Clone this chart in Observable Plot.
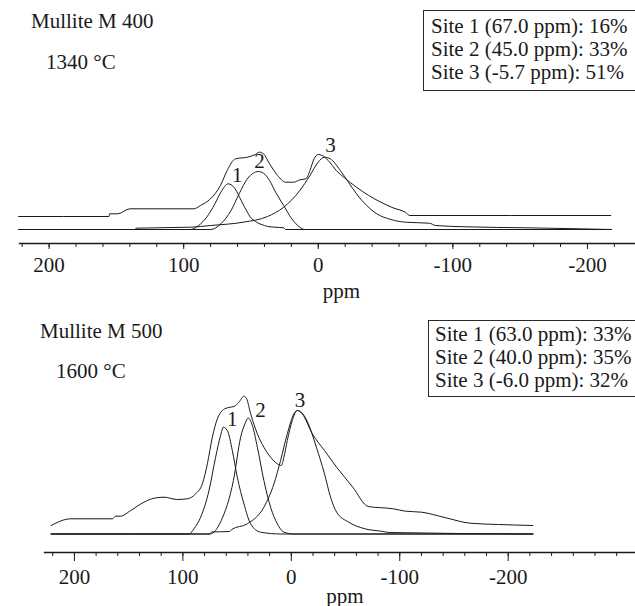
<!DOCTYPE html>
<html>
<head>
<meta charset="utf-8">
<script src="https://cdn.jsdelivr.net/npm/d3@7"></script>
<script src="https://cdn.jsdelivr.net/npm/@observablehq/plot@0.6"></script>
<style>
  body { margin: 0; background: #fff; }
  #wrap { position: relative; width: 635px; height: 606px; overflow: hidden;
          font-family: "Liberation Serif", "Times New Roman", serif; color: #1a1a1a; }
  #wrap svg, #wrap svg text { font-family: "Liberation Serif", "Times New Roman", serif !important; }
  #top { position: absolute; left: 0; top: 0; }
  #bot { position: absolute; left: 0; top: 300px; }
  .lbl { position: absolute; font-size: 21px; line-height: 23px; white-space: nowrap; z-index: 2; }
  .box { position: absolute; box-sizing: border-box; border: 1.5px solid #2a2a2a; background: #fff;
         font-size: 21px; line-height: 23px; white-space: nowrap; z-index: 2; }
</style>
</head>
<body>
<div id="wrap"><div id="top"></div><div id="bot"></div></div>
<script>
// ---------- Panel 1: Mullite M 400, 1340 °C ----------
const m400Title = "Mullite M 400";
const m400Temp = "1340 °C";
const m400Sites = ["Site 1 (67.0 ppm): 16%", "Site 2 (45.0 ppm): 33%", "Site 3 (-5.7 ppm): 51%"];
const m400MajorTicks = [200, 100, 0, -100, -200];
const m400MinorTicks = [220, 200, 180, 160, 140, 120, 100, 80, 60, 40, 20, 0, -20, -40, -60, -80, -100, -120, -140, -160, -180, -200, -220];
// [ppm, intensity]
const m400Envelope = [[222.7,13],[155.6,13],[155.0,15.7],[149.0,15.7],[140.0,20.7],[92.5,20.7],[87.5,24],[80.1,30.7],[72.7,44],[67.7,59],[61.5,70.7],[52.7,72.3],[46.8,75],[43.8,77.3],[40.7,75.7],[36.2,65.7],[30.2,54],[24.2,47.3],[18.2,47.3],[13.7,49.7],[9.1,50.7],[6.2,59],[3.1,70.7],[0.1,75],[-2.9,74],[-7.4,69],[-13.4,59],[-19.4,51.7],[-28.4,42.3],[-37.5,34],[-46.5,27.3],[-55.5,21.7],[-64.6,17.3],[-68.1,14],[-217.3,14]];
const m400Site1 = [[222.7,0],[94.9,0],[88.9,4],[82.9,12.3],[76.8,25.7],[72.4,37.3],[66.9,45.7],[61.8,40.7],[57.3,29],[52.7,17.3],[50.4,12.3],[46.7,8],[40.0,4],[37.7,3],[28.7,2],[25.7,1.7],[24.4,0],[-217.9,0]];
const m400Site2 = [[222.7,0],[79.9,0],[72.4,5.7],[64.8,19],[58.8,35.7],[52.7,50.7],[48.3,56.3],[44.7,58],[40.7,56.3],[36.2,49],[31.7,37.3],[25.7,24],[19.7,10.7],[13.7,2.3],[10.0,0],[-217.9,0]];
const m400Site3 = [[222.7,0],[136.0,0],[135.5,1.3],[94.9,2.3],[79.9,4],[55.8,7.3],[37.7,13],[25.7,22.3],[13.7,39],[6.2,54],[0.1,67.3],[-4.4,72.3],[-8.9,70.7],[-16.4,59],[-22.4,47.3],[-28.4,35.7],[-36.0,24],[-43.5,15.7],[-54.0,10],[-64.6,7.3],[-82.6,6.3],[-87.1,4],[-109.7,2.7],[-154.8,1.7],[-217.9,0]];
const m400PeakLabels = [{label: "1", ppm: 60.2, v: 54}, {label: "2", ppm: 43.7, v: 68}, {label: "3", ppm: -9.1, v: 84}];

// ---------- Panel 2: Mullite M 500, 1600 °C ----------
const m500Title = "Mullite M 500";
const m500Temp = "1600 °C";
const m500Sites = ["Site 1 (63.0 ppm): 33%", "Site 2 (40.0 ppm): 35%", "Site 3 (-6.0 ppm): 32%"];
const m500MajorTicks = [200, 100, 0, -100, -200];
const m500MinorTicks = [220, 200, 180, 160, 140, 120, 100, 80, 60, 40, 20, 0, -20, -40, -60, -80, -100, -120, -140, -160, -180, -200, -220, -240, -260, -280, -300];
const m500Envelope = [[221.5,8.5],[203.4,15.2],[165.0,15.2],[161.9,17.8],[157.3,17.8],[148.1,23.5],[135.9,31.8],[126.6,35.8],[117.4,36.8],[105.1,34.5],[95.9,35.2],[88.2,40.2],[82.0,50.2],[77.4,70.2],[72.8,96.8],[68.2,115.2],[63.6,123.5],[59.0,126.2],[52.9,127.5],[48.3,131.8],[43.7,137.8],[41.2,135.2],[37.5,120.2],[31.3,100.2],[25.3,86.8],[19.1,76.8],[12.9,70.2],[9.2,68.5],[6.8,76.8],[3.7,93.5],[-0.9,113.5],[-5.5,123.5],[-10.0,120.2],[-19.4,100.2],[-30.6,83.5],[-41.8,66.8],[-56.7,46.8],[-70.9,27.5],[-94.0,25.2],[-105.3,22.8],[-120.2,21.8],[-142.5,16.2],[-164.9,10.8],[-191.1,9.5],[-222.8,8.5]];
const m500Site1 = [[221.5,0],[94.4,0],[89.8,5.2],[83.6,16.8],[75.9,43.5],[69.8,76.8],[65.2,98.5],[62.7,106.8],[59.0,103.5],[54.4,83.5],[49.8,56.8],[43.7,30.2],[37.5,10.2],[28.3,1.8],[9.9,0],[-222.8,0]];
const m500Site2 = [[221.5,0],[75.0,0],[64.6,13.5],[53.4,53.5],[46.7,96.8],[42.1,111.8],[39.8,116],[35.9,108.5],[31.3,86.8],[25.3,53.5],[19.1,26.8],[12.9,10.2],[6.8,1.8],[-2.4,0],[-222.8,0]];
const m500Site3 = [[221.5,0],[75.3,0],[73.5,2],[56.9,2.5],[55.0,4.5],[40.6,10.2],[25.3,26.8],[16.0,50.2],[9.9,73.5],[3.7,100.2],[-2.4,120.2],[-5.5,123.5],[-9.5,121.5],[-15.7,110.2],[-23.1,86.8],[-30.6,60.2],[-36.2,36.8],[-41.8,21.8],[-53.0,11.8],[-67.9,5.2],[-82.9,2.8],[-90.3,1.5],[-222.8,0]];
const m500PeakLabels = [{label: "1", ppm: 54.4, v: 115}, {label: "2", ppm: 28.3, v: 123.5}, {label: "3", ppm: -7.9, v: 133.5}];

const ink = "#1a1a1a";
const serif = "Liberation Serif";

function spectrumPanel(o) {
  return Plot.plot({
    width: 635,
    height: o.height,
    marginLeft: o.marginLeft,
    marginRight: 0,
    marginTop: 0,
    marginBottom: o.marginBottom,
    x: {domain: o.xDomain},
    y: {domain: o.yDomain, axis: null},
    style: {fontFamily: serif, fontSize: "21px", color: ink, background: "transparent", overflow: "visible"},
    marks: [
      ...o.curves.map(c => Plot.line(c, {x: d => d[0], y: d => d[1], curve: "monotone-x", stroke: ink, strokeWidth: 1})),
      Plot.frame({anchor: "bottom", stroke: ink, strokeWidth: 1.3}),
      Plot.axisX({ticks: o.minorTicks, tickSize: 4, tickFormat: () => "", label: null, stroke: ink}),
      Plot.axisX({ticks: o.majorTicks, tickSize: o.majorTickSize, tickPadding: 8, tickFormat: d => String(d), label: null, stroke: ink, fontSize: 21, fontFamily: serif, fontVariant: "normal"}),
      Plot.text(["ppm"], {frameAnchor: "bottom", lineAnchor: "bottom", dx: o.labelDx, dy: o.labelDy, fontSize: 21, fontFamily: serif, fill: ink}),
      Plot.text(o.peakLabels, {x: "ppm", y: "v", text: "label", fontSize: 21, fontFamily: serif, fill: ink})
    ]
  });
}

document.getElementById("top").append(spectrumPanel({
  height: 300, marginLeft: 19, marginBottom: 57,
  xDomain: [222.0, -235.7], yDomain: [-14, 229],
  curves: [m400Envelope, m400Site1, m400Site2, m400Site3],
  peakLabels: m400PeakLabels, majorTicks: m400MajorTicks, minorTicks: m400MinorTicks,
  majorTickSize: 6, labelDx: 14, labelDy: 54
}));

document.getElementById("bot").append(spectrumPanel({
  height: 306, marginLeft: 44, marginBottom: 54,
  xDomain: [227.6, -317.4], yDomain: [-18.5, 233.5],
  curves: [m500Envelope, m500Site1, m500Site2, m500Site3],
  peakLabels: m500PeakLabels, majorTicks: m500MajorTicks, minorTicks: m500MinorTicks,
  majorTickSize: 9, labelDx: 5, labelDy: 50
}));

// Text annotations (titles, temperatures, site boxes)
const wrap = document.getElementById("wrap");
function addLabel(text, left, top) {
  const d = document.createElement("div");
  d.className = "lbl";
  d.textContent = text;
  d.style.left = left + "px";
  d.style.top = top + "px";
  wrap.append(d);
}
function addBox(lines, left, top, height, padTop, padLeft) {
  const d = document.createElement("div");
  d.className = "box";
  Object.assign(d.style, {left: left + "px", top: top + "px", width: "230px", height: height + "px",
    paddingTop: padTop + "px", paddingLeft: padLeft + "px"});
  lines.forEach(t => { const l = document.createElement("div"); l.textContent = t; d.append(l); });
  wrap.append(d);
}
addLabel(m400Title, 31, 10);
addLabel(m400Temp, 46, 51);
addBox(m400Sites, 423, 10, 81, 4, 7);
addLabel(m500Title, 40, 320);
addLabel(m500Temp, 56, 360);
addBox(m500Sites, 428, 320, 77, 2, 6);
</script>
</body>
</html>
